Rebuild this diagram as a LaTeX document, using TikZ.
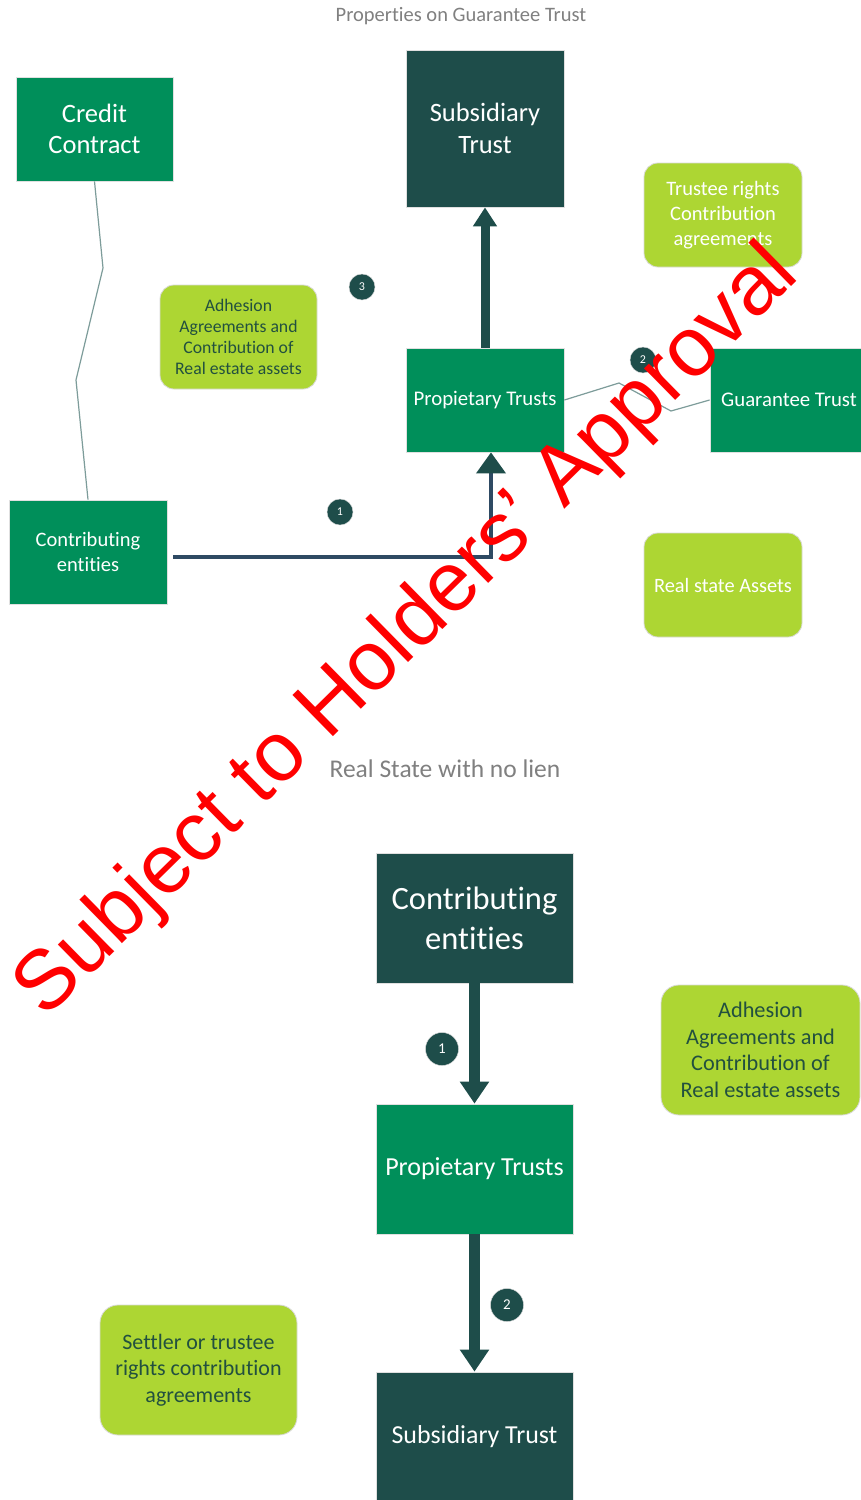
\documentclass[tikz,border=0pt]{standalone}
\usepackage{fontspec}
\setmainfont{Carlito}[Ligatures={TeX,NoCommon}]
\newfontfamily\wmfont{Liberation Sans}
\usetikzlibrary{arrows.meta, positioning}

\definecolor{boxgreen}{HTML}{008F5A}
\definecolor{boxdark}{HTML}{1E4D4A}
\definecolor{boxlime}{HTML}{ADD633}
\definecolor{limetext}{HTML}{22503F}
\definecolor{titlegray}{HTML}{808080}
\definecolor{wireline}{HTML}{7D9C9A}
\definecolor{flowblue}{HTML}{2E4A63}

\begin{document}
\begin{tikzpicture}[x=1pt, y=-1pt,
   greenbox/.style={rectangle, fill=boxgreen, draw=black!12, line width=0.8pt, text=white,
                    align=center, minimum width=158pt, minimum height=104pt, inner sep=2pt},
   darkbox/.style={greenbox, fill=boxdark},
   limebox/.style={greenbox, fill=boxlime, draw=white!85!black, rounded corners=14pt},
   numdot/.style={circle, fill=boxdark, draw=black!15, text=white, minimum size=26pt,
                  inner sep=0pt, font=\fontsize{12}{14}\selectfont},
   thinline/.style={draw=wireline, line width=1.2pt},
   flow/.style={draw=boxdark, line width=11pt, -{Triangle[width=28pt,length=22pt]}}]

   \useasboundingbox (0,0) rectangle (861,1500);
   \clip (0,0) rectangle (861,1500);
   \fill[white] (0,0) rectangle (861,1500);

   % Nodes: properties on guarantee trust
      \node[text=titlegray, font=\fontsize{20.5}{22}\selectfont] (title1) at (461,16) {Properties on Guarantee Trust};
      \node[greenbox, minimum width=157pt, font=\fontsize{26.5}{31}\selectfont]  (credit) at (94.5,129)  {Credit\\Contract};
      \node[darkbox, minimum height=157pt, font=\fontsize{26.5}{32}\selectfont]  (subs1)  at (485,128.5) {Subsidiary\\Trust};
      \node[limebox, font=\fontsize{20.5}{25}\selectfont]                          (trust)  at (723,215)   {Trustee rights\\Contribution\\agreements};
      \node[limebox, minimum width=157pt, text=limetext, font=\fontsize{17.7}{21}\selectfont] (adh1) at (238.5,337) {Adhesion\\Agreements and\\Contribution of\\Real estate assets};
      \node[greenbox, font=\fontsize{20.8}{23}\selectfont] (prop1)  at (485,400) {Propietary Trusts};
      \node[greenbox, font=\fontsize{20.8}{23}\selectfont] (guar)   at (789,400) {Guarantee Trust};
      \node[greenbox, font=\fontsize{20.5}{25}\selectfont] (contr1) at (88,552)  {Contributing\\entities};
      \node[limebox, font=\fontsize{20.4}{23}\selectfont]  (real)   at (723,585) {Real state Assets};
      \node[numdot] (n3) at (362,287) {3};
      \node[numdot] (n2) at (643,360) {2};
      \node[numdot] (n1) at (340,512) {1};

   % Paths: properties on guarantee trust
      \draw[thinline] (credit.south) -- (103,268) -- (76,380) -- (contr1.north);
      \draw[thinline] (prop1.east) -- (619,383) -- (671,411) -- (guar.west);
      \draw[flow, line width=9pt, -{Triangle[width=23pt,length=19pt]}] (prop1.north) -- (subs1.south);
      \draw[draw=flowblue, line width=4pt, shorten <=6pt, -{Triangle[width=29pt,length=21pt,color=boxdark]}]
            ([yshift=-5pt]contr1.east) -| ([xshift=6pt]prop1.south);

   % Nodes: real state with no lien
      \node[text=titlegray, font=\fontsize{25.5}{28}\selectfont] (title2) at (445,769) {Real State with no lien};
      \node[darkbox, minimum width=197pt, minimum height=130pt, font=\fontsize{32.5}{40}\selectfont] (contr2) at (474.5,918) {Contributing\\entities};
      \node[limebox, minimum width=199pt, minimum height=130pt, rounded corners=18pt, text=limetext, font=\fontsize{22.3}{26.5}\selectfont] (adh2) at (760.5,1050) {Adhesion\\Agreements and\\Contribution of\\Real estate assets};
      \node[greenbox, minimum width=197pt, minimum height=130pt, font=\fontsize{26}{28}\selectfont] (prop2) at (474.5,1169) {Propietary Trusts};
      \node[limebox, minimum width=197pt, minimum height=130pt, rounded corners=18pt, text=limetext, font=\fontsize{22}{26.5}\selectfont] (settler) at (198.5,1370) {Settler or trustee\\rights contribution\\agreements};
      \node[darkbox, minimum width=197pt, minimum height=130pt, font=\fontsize{25.9}{28}\selectfont] (subs2) at (474.5,1437) {Subsidiary Trust};
      \node[numdot, minimum size=33pt, font=\fontsize{15}{17}\selectfont] (m1) at (442,1049) {1};
      \node[numdot, minimum size=33pt, font=\fontsize{15}{17}\selectfont] (m2) at (507,1305) {2};

   % Paths: real state with no lien
      \draw[flow] (contr2.south) -- (prop2.north);
      \draw[flow] (prop2.south) -- (subs2.north);

   % Watermark
      \node[text=red, inner sep=0pt, anchor=base west, rotate=44.5,
            font=\wmfont\fontsize{84}{84}\selectfont] (stamp) at (45,1020) {Subject to Holders’ Approval};
\end{tikzpicture}
\end{document}
